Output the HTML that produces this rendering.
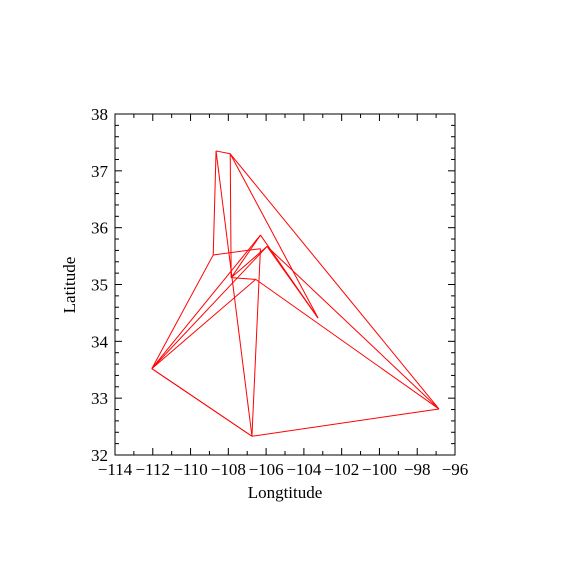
<!DOCTYPE html>
<html><head><meta charset="utf-8"><style>
body{margin:0;background:#fff}
svg text{font-family:"Liberation Serif",serif;font-size:17px;fill:#000}
</style></head><body>
<svg id="chart" width="570" height="570">
<rect x="115" y="114" width="340" height="341" fill="none" stroke="#000" stroke-width="1"/>
<g id="ticks"></g><g id="edges"></g>
<text x="285" y="498" text-anchor="middle">Longtitude</text>
<text transform="translate(75,285) rotate(-90)" text-anchor="middle">Latitude</text>
</svg>
<script>
const nodeNames=["A","B","C","D","E","F","G","H","I","J","K","L"];
const nodeLon=[-108.65,-107.9,-108.8,-107.85,-106.3,-105.95,-106.55,-112.05,-106.75,-96.85,-103.25,-106.3];
const nodeLat=[37.35,37.30,35.52,35.12,35.87,35.67,35.09,33.52,32.33,32.81,34.41,35.63];
const edgeFrom=[0,0,0,1,1,1,2,2,3,3,3,4,5,5,6,7,7,7,7,7,8,8];
const edgeTo=[1,2,8,3,10,9,11,7,4,5,6,10,10,9,9,4,5,6,8,8,9,11];
const xTicks=[-114,-112,-110,-108,-106,-104,-102,-100,-98,-96];
const yTicks=[32,33,34,35,36,37,38];
const X0=115,X1=455,Y0=455,Y1=114;
const xs=v=>X0+(v+114)/18*(X1-X0);
const ys=v=>Y0-(v-32)/6*(Y0-Y1);
const NS="http://www.w3.org/2000/svg";
const T=document.getElementById('ticks'),E=document.getElementById('edges');
function ln(g,x1,y1,x2,y2,c){const l=document.createElementNS(NS,'line');l.setAttribute('x1',x1);l.setAttribute('y1',y1);l.setAttribute('x2',x2);l.setAttribute('y2',y2);l.setAttribute('stroke',c);l.setAttribute('stroke-width',1);g.appendChild(l);return l;}
function tx(x,y,s,a){const t=document.createElementNS(NS,'text');t.setAttribute('x',x);t.setAttribute('y',y);t.setAttribute('text-anchor',a);t.textContent=s;T.appendChild(t);return t;}
xTicks.forEach(v=>{const x=xs(v);
 const l=ln(T,x,Y0,x,Y0-7,'#000');
 
 
 ln(T,x,Y1,x,Y1+7,'#000');
 if(v<-96){ln(T,xs(v+1),Y0,xs(v+1),Y0-4,'#000');ln(T,xs(v+1),Y1,xs(v+1),Y1+4,'#000');}
 const t=tx(x,475,(v<0?'\u2212':'')+Math.abs(v),'middle');
 
 
});
yTicks.forEach(v=>{const y=ys(v);
 const l=ln(T,X0,y,X0+7,y,'#000');
 
 
 ln(T,X1,y,X1-7,y,'#000');
 if(v<38){for(let k=1;k<5;k++){const yy=ys(v+k*0.2);ln(T,X0,yy,X0+4,yy,'#000');ln(T,X1,yy,X1-4,yy,'#000');}}
 const t=tx(108,y+6,String(v),'end');
 
 
});
edgeFrom.forEach((a,i)=>{const b=edgeTo[i];
 const l=ln(E,xs(nodeLon[a]),ys(nodeLat[a]),xs(nodeLon[b]),ys(nodeLat[b]),'#f00');
 
 
});
</script>
</body></html>
